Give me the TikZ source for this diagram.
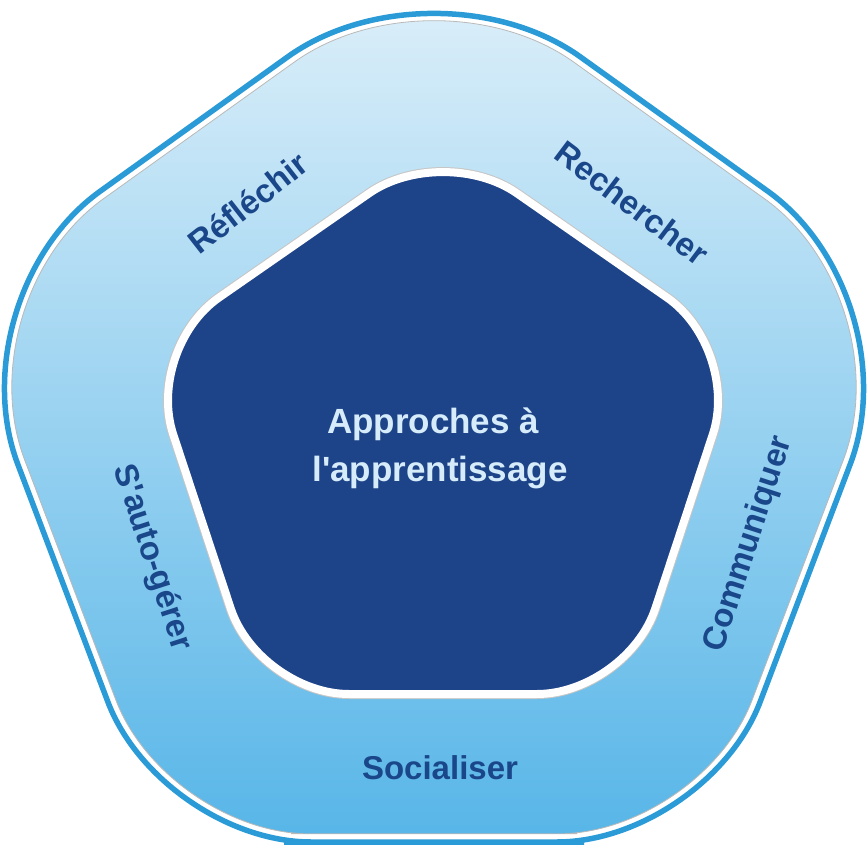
\documentclass[tikz,border=0pt]{standalone}
\usepackage{fontspec}
\newfontfamily\diagfont{Liberation Sans}
\definecolor{rimblue}{RGB}{42,155,214}
\definecolor{coreblue}{RGB}{29,67,136}
\definecolor{labelblue}{RGB}{26,70,138}
\definecolor{coretext}{RGB}{214,236,250}
\definecolor{ringtop}{RGB}{225,241,250}
\definecolor{ringmid}{RGB}{172,217,242}
\definecolor{ringbot}{RGB}{88,182,232}
\begin{document}
\begin{tikzpicture}[x=1pt,y=-1pt,
  ringlabel/.style={font=\diagfont\bfseries\fontsize{33}{33}\selectfont, text=labelblue, inner sep=0pt},
  coretitle/.style={font=\diagfont\bfseries\fontsize{35}{48}\selectfont, text=coretext, align=center, inner sep=0pt}]
\useasboundingbox (0,0) rectangle (868,850);
% outer rim (blue line centre)
\coordinate (oT) at (434,-48);
\coordinate (oL) at (-46,296);
\coordinate (oR) at (914,296);
\coordinate (oBL) at (161,842);
\coordinate (oBR) at (707,842);
\coordinate (oM) at (434,842);
% ring fill boundary
\coordinate (fT) at (434,-38);
\coordinate (fL) at (-36.5,299);
\coordinate (fR) at (904.5,299);
\coordinate (fBL) at (166.7,833.8);
\coordinate (fBR) at (701.3,833.8);
\coordinate (fM) at (434,833.8);
% core pentagon (white border centre)
\coordinate (cT) at (443,142);
\coordinate (cL) at (145,349);
\coordinate (cR) at (741,349);
\coordinate (cBL) at (259,694);
\coordinate (cBR) at (627,694);
\coordinate (cM) at (443,694);

\draw[rimblue, line width=5.5pt] (oM) [rounded corners=150pt] -- (oBR) [rounded corners=180pt] -- (oR) -- (oT) -- (oL) [rounded corners=150pt] -- (oBL) -- cycle;
\draw[top color=ringtop, middle color=ringmid, bottom color=ringbot, draw=gray!55, line width=0.8pt]
  (fM) [rounded corners=143pt] -- (fBR) [rounded corners=172pt] -- (fR) -- (fT) -- (fL) [rounded corners=143pt] -- (fBL) -- cycle;

\draw[gray!45, line width=10pt] (cM) [rounded corners=90pt] -- (cBR) -- (cR) -- (cT) -- (cL) -- (cBL) -- cycle;
\draw[white, fill=coreblue, line width=8pt] (cM) [rounded corners=90pt] -- (cBR) -- (cR) -- (cT) -- (cL) -- (cBL) -- cycle;

\node[coretitle] (core) at (440,448) {Approches à\hspace{14pt}\mbox{}\\l'apprentissage};
\node[ringlabel, rotate=38] (reflechir) at (248,203) {Réfléchir};
\node[ringlabel, rotate=-37] (rechercher) at (632,203) {Rechercher};
\node[ringlabel, rotate=-72] (autogerer) at (152,558) {S'auto-gérer};
\node[ringlabel, rotate=72] (communiquer) at (749,544) {Communiquer};
\node[ringlabel] (socialiser) at (440,768) {Socialiser};
\end{tikzpicture}
\end{document}
